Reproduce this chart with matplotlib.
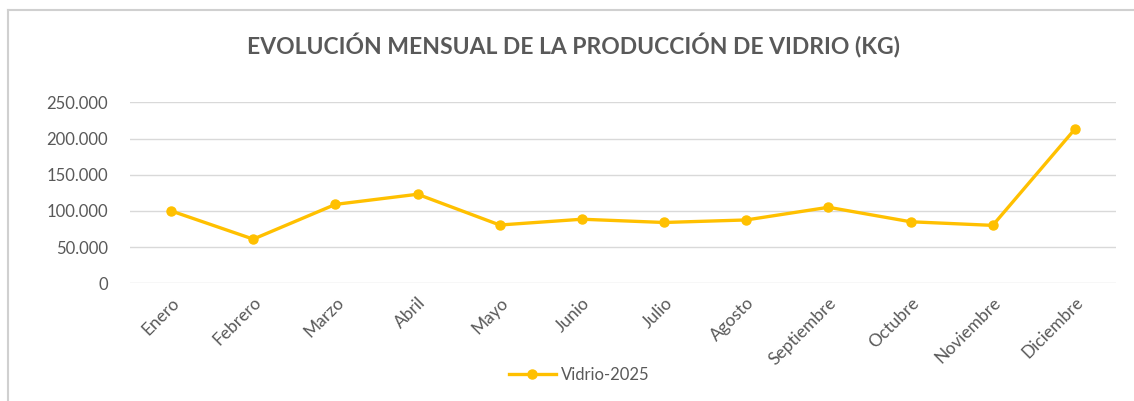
import matplotlib.pyplot as plt
from matplotlib.lines import Line2D
from matplotlib.ticker import FuncFormatter

meses = ['Enero', 'Febrero', 'Marzo', 'Abril', 'Mayo', 'Junio', 'Julio',
         'Agosto', 'Septiembre', 'Octubre', 'Noviembre', 'Diciembre']
vidrio_2025 = [100000, 61000, 109000, 123000, 80500, 88500, 84000,
               87500, 105000, 85000, 80000, 213000]
yticks = [0, 50000, 100000, 150000, 200000, 250000]

naranja = '#FFC000'
gris_texto = '#595959'

plt.rcParams['font.family'] = ['Lato', 'DejaVu Sans']

fig = plt.figure(figsize=(11.34, 4.01), dpi=100)
ax = fig.add_axes([130 / 1134, 1 - 283.3 / 401, 986 / 1134, 181 / 401])

x = list(range(len(meses)))
ax.plot(x, vidrio_2025, color=naranja, lw=2.4, marker='o', ms=6.5,
        label='Vidrio-2025', solid_joinstyle='round')

ax.set_xlim(-0.5, len(meses) - 0.5)
ax.set_ylim(0, 250000)
ax.set_yticks(yticks)
ax.yaxis.set_major_formatter(
    FuncFormatter(lambda v, p: '0' if v == 0 else f'{int(v):,}'.replace(',', '.')))
ax.set_xticks(x)
ax.set_xticklabels(meses, rotation=45, ha='right', rotation_mode='anchor')

ax.grid(axis='y', color='#D9D9D9', lw=1)
ax.set_axisbelow(True)
for s in ax.spines.values():
    s.set_visible(False)
ax.tick_params(axis='both', length=0, labelsize=12, labelcolor=gris_texto)
ax.tick_params(axis='x', labelsize=12.5, pad=8)
ax.tick_params(axis='y', pad=16)

fig.text(573 / 1134, 1 - 46 / 401, 'EVOLUCIÓN MENSUAL DE LA PRODUCCIÓN DE VIDRIO (KG)',
         ha='center', va='center', fontsize=16.5, fontweight='bold', color=gris_texto)

fig.legend(loc='center', bbox_to_anchor=(579 / 1134, 1 - 375 / 401), frameon=False,
           fontsize=12, labelcolor=gris_texto, handlelength=2.8, handletextpad=0.3)

# borde del gráfico
fig.add_artist(Line2D([8 / 1134, 1], [1 - 9.5 / 401] * 2, color='#D0D0D0', lw=1.5))
fig.add_artist(Line2D([8 / 1134] * 2, [0, 1 - 9.5 / 401], color='#D0D0D0', lw=1.5))

fig.savefig('out.png', dpi=100)
